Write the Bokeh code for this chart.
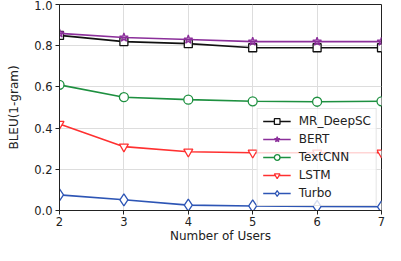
from bokeh.plotting import figure
from bokeh.embed import file_html
from bokeh.resources import INLINE
from bokeh.models import Range1d, FixedTicker, Legend, LegendItem, CustomJSTickFormatter

users = [2, 3, 4, 5, 6, 7]
mr_deepsc = [0.850, 0.820, 0.810, 0.790, 0.790, 0.790]
bert = [0.860, 0.840, 0.830, 0.820, 0.820, 0.820]
textcnn = [0.610, 0.550, 0.538, 0.530, 0.528, 0.530]
lstm = [0.420, 0.310, 0.285, 0.280, 0.280, 0.280]
turbo = [0.076, 0.052, 0.026, 0.022, 0.020, 0.018]

series = [
    ("MR_DeepSC", mr_deepsc, "#111111", "square", 8),
    ("BERT", bert, "#8b2f9a", "star", 9),
    ("TextCNN", textcnn, "#1e9040", "circle", 9),
    ("LSTM", lstm, "#ff3030", "inverted_triangle", 9),
    ("Turbo", turbo, "#2d55b5", "diamond", 12),
]

p = figure(width=385, height=245, output_backend="svg", toolbar_location=None,
           x_range=Range1d(2, 7), y_range=Range1d(0, 1.0),
           min_border_left=59, min_border_right=4, min_border_top=4, min_border_bottom=0)

items = []
for name, ys, color, marker, size in series:
    r1 = p.line(users, ys, line_color=color, line_width=1.6)
    fill = "white" if marker != "star" else color
    r2 = p.scatter(users, ys, marker=marker, size=size, line_color=color,
                   fill_color=fill, fill_alpha=1.0 if marker != "star" else 0.3, line_width=1.3)
    items.append(LegendItem(label=name, renderers=[r1, r2]))

legend = Legend(items=items)
legend.label_text_font = "DejaVu Sans"
legend.label_text_font_size = "12px"
legend.label_height = 14
legend.glyph_height = 14
legend.glyph_width = 28
legend.label_standoff = 8
legend.spacing = 4
legend.padding = 5
legend.margin = 4
legend.border_line_color = "#cccccc"
legend.background_fill_alpha = 0.8
legend.label_text_color = "#222222"
p.add_layout(legend)
p.legend.location = "bottom_right"

p.xaxis.ticker = FixedTicker(ticks=users)
p.yaxis.ticker = FixedTicker(ticks=[0.0, 0.2, 0.4, 0.6, 0.8, 1.0])
p.yaxis.formatter = CustomJSTickFormatter(code="return tick.toFixed(1);")

p.xaxis.axis_label = "Number of Users"
p.yaxis.axis_label = "BLEU(1-gram)"
for ax in [p.xaxis[0], p.yaxis[0]]:
    ax.axis_label_text_font = "DejaVu Sans"
    ax.axis_label_text_font_style = "normal"
    ax.axis_label_text_font_size = "12px"
    ax.major_label_text_font = "DejaVu Sans"
    ax.major_label_text_font_size = "11.5px"
    ax.major_label_text_color = "#222222"
    ax.axis_label_text_color = "#222222"
    ax.minor_tick_line_color = None
    ax.major_tick_in = 0
    ax.major_tick_out = 4
    ax.axis_line_color = "#222222"
    ax.major_tick_line_color = "#222222"
p.xaxis.axis_label_standoff = 0
p.yaxis.axis_label_standoff = 10
p.xaxis.major_label_standoff = 2
p.yaxis.major_label_standoff = 3

p.xgrid.grid_line_color = "#dddddd"
p.ygrid.grid_line_color = "#dddddd"
p.outline_line_color = "#222222"
p.outline_line_width = 1
p.outline_line_alpha = 1.0

open("out.html", "w").write(file_html(p, INLINE))
